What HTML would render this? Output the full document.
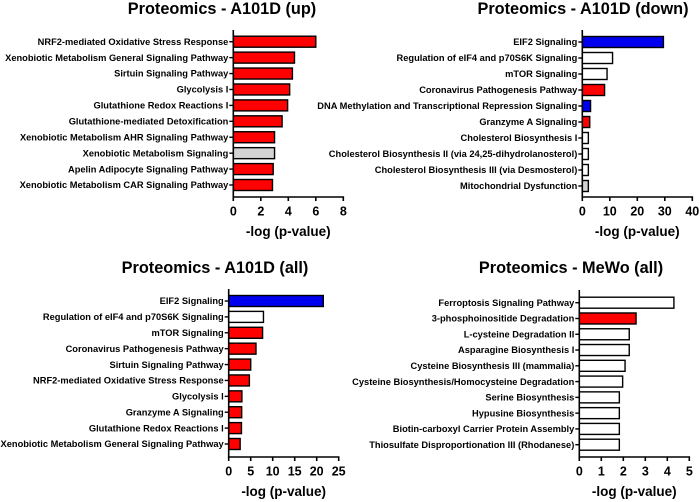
<!DOCTYPE html>
<html><head><meta charset="utf-8"><style>
html,body{margin:0;padding:0;background:#fff;}
svg{display:block;font-family:"Liberation Sans",Arial,sans-serif;font-weight:bold;}
</style></head><body>
<svg id="fig" width="700" height="502" viewBox="0 0 700 502"></svg>
<script>
const upCats=["NRF2-mediated Oxidative Stress Response","Xenobiotic Metabolism General Signaling Pathway","Sirtuin Signaling Pathway","Glycolysis I","Glutathione Redox Reactions I","Glutathione-mediated Detoxification","Xenobiotic Metabolism AHR Signaling Pathway","Xenobiotic Metabolism Signaling","Apelin Adipocyte Signaling Pathway","Xenobiotic Metabolism CAR Signaling Pathway"];
const upVals=[6.0,4.45,4.3,4.1,3.95,3.55,3.0,3.0,2.9,2.85];
const upColors=["#f00","#f00","#f00","#f00","#f00","#f00","#f00","#d3d3d3","#f00","#f00"];
const upTicks=[0,2,4,6,8];

const downCats=["EIF2 Signaling","Regulation of eIF4 and p70S6K Signaling","mTOR Signaling","Coronavirus Pathogenesis Pathway","DNA Methylation and Transcriptional Repression Signaling","Granzyme A Signaling","Cholesterol Biosynthesis I","Cholesterol Biosynthesis II (via 24,25-dihydrolanosterol)","Cholesterol Biosynthesis III (via Desmosterol)","Mitochondrial Dysfunction"];
const downVals=[29.5,11,9,8.1,3,2.7,2.2,2.2,2.2,2.2];
const downColors=["#0000ee","#fff","#fff","#f00","#0000ee","#f00","#fff","#fff","#fff","#d3d3d3"];
const downTicks=[0,10,20,30,40];

const allCats=["EIF2 Signaling","Regulation of eIF4 and p70S6K Signaling","mTOR Signaling","Coronavirus Pathogenesis Pathway","Sirtuin Signaling Pathway","NRF2-mediated Oxidative Stress Response","Glycolysis I","Granzyme A Signaling","Glutathione Redox Reactions I","Xenobiotic Metabolism General Signaling Pathway"];
const allVals=[21.5,7.9,7.7,6.2,5.0,4.7,3.0,2.95,2.9,2.6];
const allColors=["#0000ee","#fff","#f00","#f00","#f00","#f00","#f00","#f00","#f00","#f00"];
const allTicks=[0,5,10,15,20,25];

const mewoCats=["Ferroptosis Signaling Pathway","3-phosphoinositide Degradation","L-cysteine Degradation II","Asparagine Biosynthesis I","Cysteine Biosynthesis III (mammalia)","Cysteine Biosynthesis/Homocysteine Degradation","Serine Biosynthesis","Hypusine Biosynthesis","Biotin-carboxyl Carrier Protein Assembly","Thiosulfate Disproportionation III (Rhodanese)"];
const mewoVals=[4.3,2.58,2.27,2.27,2.08,1.97,1.82,1.82,1.82,1.82];
const mewoColors=["#fff","#f00","#fff","#fff","#fff","#fff","#fff","#fff","#fff","#fff"];
const mewoTicks=[0,1,2,3,4,5];

const NS="http://www.w3.org/2000/svg";
const svg=document.getElementById('fig');
function mk(tag,attrs,parent){const e=document.createElementNS(NS,tag);for(const k in attrs)e.setAttribute(k,attrs[k]);(parent||svg).appendChild(e);return e;}

function panel(key,title,cats,vals,colors,ticks,g){
  const grp=mk('g',{});
  
  
  const max=ticks[ticks.length-1];
  const x=v=>g.x0+(v/max)*g.w;
  const step=(g.yLast-g.yFirst)/(cats.length-1);
  const y=i=>g.yFirst+i*step;
  const t=mk('text',{x:g.tx,y:g.ty,'text-anchor':'middle','font-size':'16.3'},grp);
  t.textContent=title;
  
  
  cats.forEach((c,i)=>{
    const r=mk('rect',{x:x(0),y:y(i)-5.5,width:Math.max(0,x(vals[i])-x(0)),height:11,fill:colors[i],stroke:'#000','stroke-width':1.4},grp);
    
    
    mk('line',{x1:x(0)-4,x2:x(0),y1:y(i),y2:y(i),stroke:'#000','stroke-width':1.4},grp);
    const l=mk('text',{x:x(0)-5,y:y(i)+3.2,'text-anchor':'end','font-size':'9.3'},grp);
    l.textContent=c;
    
    
  });
  const ya=mk('line',{x1:x(0),x2:x(0),y1:g.top,y2:g.bot,stroke:'#000','stroke-width':1.6},grp);
  
  
  const xa=mk('line',{x1:x(0)-0.8,x2:x(max)+0.8,y1:g.bot,y2:g.bot,stroke:'#000','stroke-width':1.6},grp);
  
  
  ticks.forEach(tv=>{
    mk('line',{x1:x(tv),x2:x(tv),y1:g.bot,y2:g.bot+4,stroke:'#000','stroke-width':1.6},grp);
    const tl=mk('text',{x:x(tv),y:g.bot+18.5,'text-anchor':'middle','font-size':'12.5'},grp);
    tl.textContent=tv;
    
    
  });
  const at=mk('text',{x:(x(0)+x(max))/2,y:g.bot+39,'text-anchor':'middle','font-size':'13.5'},grp);
  at.textContent='-log (p-value)';
  
  
}
panel('up','Proteomics - A101D (up)',upCats,upVals,upColors,upTicks,{x0:233.3,w:110,yFirst:41.7,yLast:185,top:30,bot:197,tx:222,ty:14});
panel('down','Proteomics - A101D (down)',downCats,downVals,downColors,downTicks,{x0:582.3,w:110,yFirst:42,yLast:186,top:30,bot:197,tx:583,ty:14});
panel('all','Proteomics - A101D (all)',allCats,allVals,allColors,allTicks,{x0:228.7,w:110,yFirst:301,yLast:444,top:289,bot:457,tx:215,ty:273});
panel('mewo','Proteomics - MeWo (all)',mewoCats,mewoVals,mewoColors,mewoTicks,{x0:579.3,w:110,yFirst:302.7,yLast:444.7,top:290,bot:457,tx:571,ty:273});
</script>
</body></html>
